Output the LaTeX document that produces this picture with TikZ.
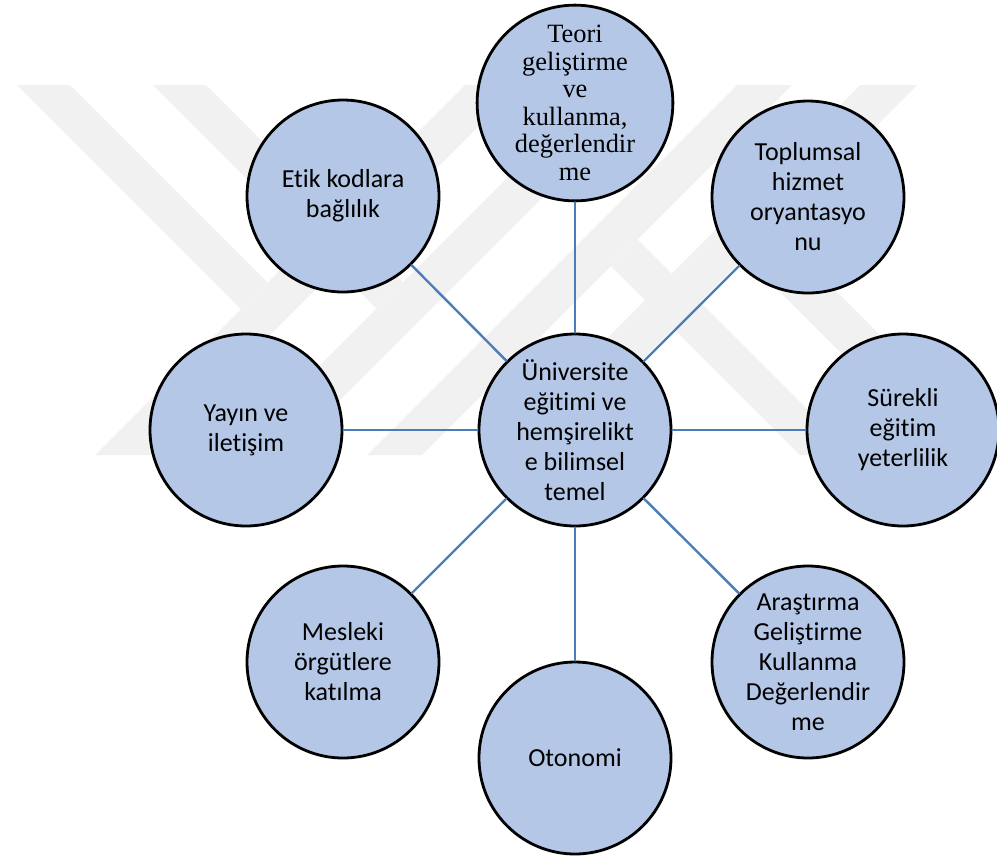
\documentclass[tikz,border=0pt]{standalone}
\usepackage{fontspec}
\setmainfont{Carlito}[Ligatures=NoCommon]
\newfontfamily\timesfont{Liberation Serif}[Ligatures=NoCommon]
\definecolor{dairedolgu}{RGB}{180,199,231}
\definecolor{baglanti}{RGB}{74,126,187}
\definecolor{filigran}{RGB}{241,241,241}
\begin{document}
\begin{tikzpicture}[x=.5pt, y=-.5pt, line join=round, line cap=round,
		daire/.style={circle, draw=black, line width=1.4pt, fill=dairedolgu, minimum size=96pt, inner sep=0pt, align=center, font=\fontsize{13}{15}\selectfont},
		bag/.style={draw=baglanti, line width=1.2pt}]
	\def\ust{85} \def\alt{455}
	\useasboundingbox (0,0) rectangle (997,858);
	% filigran (arka plan)
	\fill[filigran] (95,\alt)--(150,\alt)--(520,\ust)--(465,\ust)--cycle;
	\fill[filigran] (230,\alt)--(285,\alt)--(655,\ust)--(600,\ust)--cycle;
	\fill[filigran] (367,\alt)--(422,\alt)--(792,\ust)--(737,\ust)--cycle;
	\fill[filigran] (490,\alt)--(547,\alt)--(917,\ust)--(860,\ust)--cycle;
	\fill[filigran] (17,\ust)--(70,\ust)--(267.5,282.5)--(241,309)--cycle;
	\fill[filigran] (153,\ust)--(206,\ust)--(403,282)--(376.5,308.5)--cycle;
	\fill[filigran] (611,266)--(637.5,239.5)--(853,\alt)--(800,\alt)--cycle;
	\fill[filigran] (745,257)--(773.5,228.5)--(1000,\alt)--(943,\alt)--cycle;
	% daireler
	\node[daire] (merkez) at (575,430) {Üniversite\\eğitimi ve\\hemşirelikt\\e bilimsel\\temel};
	\node[daire, font=\timesfont\fontsize{13.2}{13.75}\selectfont] (teori) at (575,103) {Teori\\geliştirme\\ve\\kullanma,\\değerlendir\\me};
	\node[daire] (toplum) at (808,197) {Toplumsal\\hizmet\\oryantasyo\\nu};
	\node[daire] (surekli) at (903,430) {Sürekli\\eğitim\\yeterlilik};
	\node[daire] (arastirma) at (808,662) {Araştırma\\Geliştirme\\Kullanma\\Değerlendir\\me};
	\node[daire] (otonomi) at (575,758) {Otonomi};
	\node[daire] (mesleki) at (343,662) {Mesleki\\örgütlere\\katılma};
	\node[daire] (yayin) at (246,430) {Yayın ve\\iletişim};
	\node[daire] (etik) at (343,196) {Etik kodlara\\bağlılık};
	% baglantilar
	\foreach \n in {teori,toplum,surekli,arastirma,otonomi,mesleki,yayin,etik}
		\draw[bag] (merkez)--(\n);
\end{tikzpicture}
\end{document}
